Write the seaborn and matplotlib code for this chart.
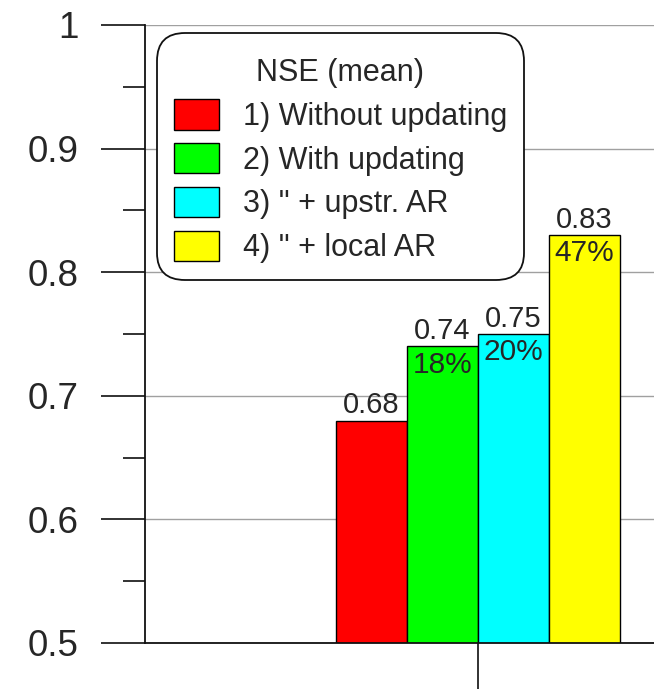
import pandas as pd
import matplotlib
matplotlib.use("Agg")
import matplotlib.pyplot as plt
import seaborn as sns

# chart values
methods = ['1) Without updating', '2) With updating', '3) " + upstr. AR', '4) " + local AR']
nse_mean = [0.68, 0.74, 0.75, 0.83]
gain_labels = ['', '18%', '20%', '47%']
bar_colors = ['#ff0000', '#00ff00', '#00ffff', '#ffff00']
ytick_vals = [0.5, 0.6, 0.7, 0.8, 0.9, 1.0]
ytick_text = ['0.5', '0.6', '0.7', '0.8', '0.9', '1']

data = pd.DataFrame({'group': ['all'] * len(methods), 'method': methods, 'nse': nse_mean})

sns.set_style('white')
plt.rcParams['font.family'] = ['Liberation Sans', 'DejaVu Sans']

fig = plt.figure(figsize=(6.54, 6.90), dpi=100)
ax = fig.add_axes([145 / 654, 47 / 690, 666 / 654, 618 / 690])

sns.barplot(data=data, x='group', y='nse', hue='method', palette=bar_colors,
            width=0.8, edgecolor='black', linewidth=1, saturation=1, ax=ax)

ax.set_ylim(0.5, 1.0)
ax.set_xlim(-0.938, 0.938)
ax.set_yticks(ytick_vals)
ax.set_yticklabels(ytick_text)
ax.set_yticks([0.55, 0.65, 0.75, 0.85, 0.95], minor=True)
ax.set_xticks([0])
ax.set_xticklabels([''])
ax.set_xlabel('')
ax.set_ylabel('')

ax.tick_params(axis='y', which='major', direction='out', length=32, width=1.3,
               pad=16, labelsize=26.5, left=True, color='#222222')
ax.tick_params(axis='y', which='minor', direction='out', length=16, width=1.3,
               left=True, color='#222222')
ax.tick_params(axis='x', which='major', direction='out', length=33, width=1.3,
               bottom=True, color='#222222')

ax.yaxis.grid(True, color='#a0a0a0', linewidth=1)
ax.set_axisbelow(True)
for side in ['top', 'right']:
    ax.spines[side].set_visible(False)
for side in ['left', 'bottom']:
    ax.spines[side].set_color('#111111')
    ax.spines[side].set_linewidth(1.3)

# value labels above bars, gain inside
for cont, val, gain in zip(ax.containers, nse_mean, gain_labels):
    ax.bar_label(cont, labels=[f'{val:.2f}'], padding=1, fontsize=21)
    bar = cont.patches[0]
    if gain:
        ax.annotate(gain, (bar.get_x() + bar.get_width() / 2, bar.get_height()),
                    xytext=(0, -3), textcoords='offset points',
                    ha='center', va='top', fontsize=21.5)

sns.move_legend(ax, 'upper left', bbox_to_anchor=(157 / 654, 1 - 33 / 690),
                bbox_transform=fig.transFigure, title='\nNSE (mean)',
                fontsize=22, title_fontsize=22, frameon=True, fancybox=True,
                handlelength=1.47, handleheight=1.15, handletextpad=0.78,
                labelspacing=0.37, borderpad=0.55, borderaxespad=0)
leg = ax.get_legend()
leg.get_title().set_linespacing(0.05)
frame = leg.get_frame()
frame.set_boxstyle('round', pad=0, rounding_size=0.9)
frame.set_edgecolor('#111111')
frame.set_linewidth(1.3)
frame.set_facecolor('white')
frame.set_alpha(1)
for h in leg.legend_handles:
    h.set_edgecolor('black')
    h.set_linewidth(1)

fig.savefig('out.png', dpi=100)
